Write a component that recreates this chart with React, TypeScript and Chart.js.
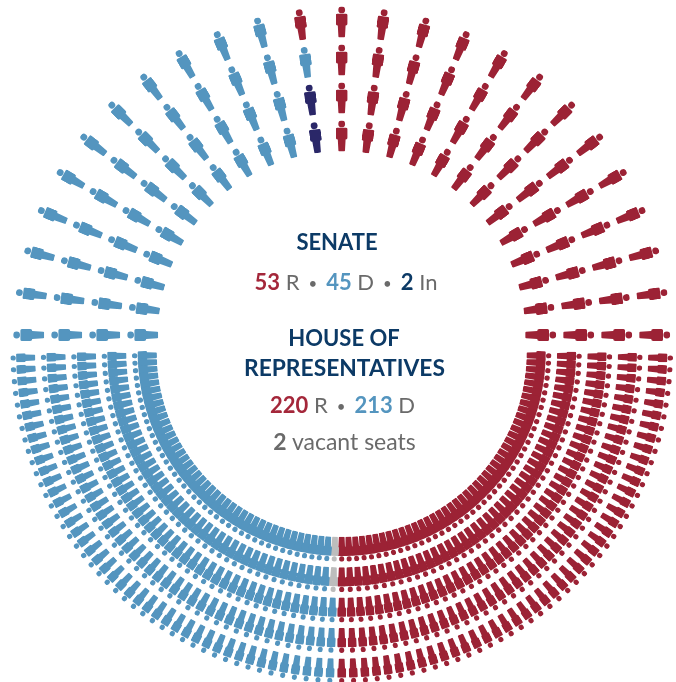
import React, { useEffect, useRef } from "react";
import { Chart, registerables } from "chart.js";

Chart.register(...registerables);

// ---- data ----
const senateParties = ["D", "In", "R"];
const senateSeats = [45, 2, 53];
const senateMixedSpoke = ["In", "In", "D", "R"];
const houseParties = ["D", "Vacant", "R"];
const houseSeats = [213, 2, 220];
const houseMixedSpoke = ["Vacant", "Vacant", "D", "D", "D"];

const senateRows = 4;
const senateSpokes = 25;
const houseRows = 5;
const houseSpokes = 87;

// ---- styles and layout ----
const RED = "#9c2235";
const RED_TEXT = "#a4273a";
const BLUE = "#5495bf";
const INDIGO = "#2a2768";
const GREY = "#bdbdbd";
const NAVY = "#0c3a66";
const TEXTGREY = "#6a6a6a";
const colors: Record<string, string> = { D: BLUE, R: RED, In: INDIGO, Vacant: GREY };

const W = 676, H = 682, CX = 341.7;
const SENATE_CY = 335, SENATE_R0 = 199, SENATE_STEP = 38;
const HOUSE_CY = 352, HOUSE_R0 = 197.3, HOUSE_STEP = 30.4;

// legInset: how far the legs sit in from the shoulders, in sprite units
function sprite(color: string, w: number, h: number, legInset: number): Promise<HTMLImageElement> {
  const a = legInset, c = 12 - legInset;
  const svg = `<svg xmlns="http://www.w3.org/2000/svg" width="${w}" height="${h}" viewBox="0 0 12 31" preserveAspectRatio="none"><g fill="${color}"><circle cx="6" cy="3.4" r="3.4"/><path d="M1.6 7.2H10.4Q11.9 7.2 11.9 8.7L11.9 17Q11.9 19 10 19L${c} 19L${c - 0.6} 30Q${c - 0.7} 31 ${c - 1.7} 31H${a + 1.7}Q${a + 0.7} 31 ${a + 0.6} 30L${a} 19L2 19Q.1 19 .1 17L.1 8.7Q.1 7.2 1.6 7.2Z"/></g></svg>`;
  return new Promise((resolve) => {
    const img = new Image(w, h);
    img.onload = () => resolve(img);
    img.src = "data:image/svg+xml;charset=utf-8," + encodeURIComponent(svg);
  });
}

type Seat = { x: number; y: number; rot: number; party: string };

// Seats fill spoke by spoke from the left: whole spokes of the first party,
// one mixed spoke, and the last party for the remainder.
function seats(first: number, rows: number, spokes: number, mixed: string[], last: string, firstParty: string,
  angle: (i: number) => number, r0: number, step: number, cy: number, upper: boolean): Seat[] {
  const out: Seat[] = [];
  const full = Math.floor(first / rows);
  for (let s = 0; s < spokes; s++) {
    const deg = angle(s);
    const t = (deg * Math.PI) / 180;
    for (let r = 0; r < rows; r++) {
      const party = s < full ? firstParty : s === full ? mixed[r] : last;
      const rad = r0 + r * step;
      out.push({
        x: CX - Math.cos(t) * rad,
        y: upper ? cy - Math.sin(t) * rad : cy + Math.sin(t) * rad,
        rot: upper ? deg - 90 : 270 - deg,
        party,
      });
    }
  }
  return out;
}

export default function App() {
  const ref = useRef<HTMLCanvasElement>(null);
  useEffect(() => {
    let chart: Chart | null = null;
    let dead = false;
    (async () => {
      const sen: Record<string, HTMLImageElement> = {};
      const hou: Record<string, HTMLImageElement> = {};
      for (const k of senateParties) sen[k] = await sprite(colors[k], 12, 31, 2.1);
      for (const k of houseParties) hou[k] = await sprite(colors[k], 9, 25, 1.6);
      if (dead || !ref.current) return;

      const senate = seats(senateSeats[0], senateRows, senateSpokes, senateMixedSpoke, "R", "D",
        (i) => (i * 180) / (senateSpokes - 1), SENATE_R0, SENATE_STEP, SENATE_CY, true);
      const house = seats(houseSeats[0], houseRows, houseSpokes, houseMixedSpoke, "R", "D",
        (i) => ((i + 0.5) * 180) / houseSpokes, HOUSE_R0, HOUSE_STEP, HOUSE_CY, false);

      const ds = (list: Seat[], party: string, image: HTMLImageElement) => ({
        label: party,
        data: list.filter((p) => p.party === party),
        pointStyle: image,
        pointRadius: 5,
        showLine: false,
        clip: false,
      });

      chart = new Chart(ref.current, {
        type: "scatter",
        data: {
          datasets: [
            ...senateParties.map((k) => ds(senate, k, sen[k])),
            ...houseParties.map((k) => ds(house, k, hou[k])),
          ] as any,
        },
        options: {
          animation: false,
          responsive: false,
          events: [],
          layout: { padding: 0, autoPadding: false },
          elements: { point: { rotation: (c: any) => c.raw?.rot ?? 0 } },
          plugins: { legend: { display: false }, tooltip: { enabled: false }, title: { display: false } },
          scales: {
            x: { type: "linear", display: false, min: 0, max: W },
            y: { type: "linear", display: false, min: 0, max: H, reverse: true },
          },
        } as any,
      });
    })();
    return () => {
      dead = true;
      chart?.destroy();
    };
  }, []);

  const font = "Lato, 'Noto Sans', sans-serif";
  const line = (y: number, cx: number, size: number, children: React.ReactNode, weight = 400): React.ReactNode => (
    <div style={{ position: "absolute", left: cx - 200, width: 400, top: y - 20, height: 40, lineHeight: "40px", textAlign: "center", fontSize: size, fontWeight: weight, fontFamily: font, color: TEXTGREY, whiteSpace: "pre" }}>{children}</div>
  );
  const b = (c: string, t: string) => <span style={{ color: c, fontWeight: 700 }}>{t}</span>;
  const dot = <span style={{ fontSize: 15, margin: "0 9px", verticalAlign: 1 }}>•</span>;
  return (
    <div style={{ position: "fixed", left: 0, top: 0, width: W, height: H, background: "#fff" }}>
      <canvas ref={ref} width={W} height={H} style={{ position: "absolute", left: 0, top: 0 }} />
      {line(242, 337, 22, <span style={{ color: NAVY }}>SENATE</span>, 700)}
      {line(282, 346, 22, <>{b(RED_TEXT, "53")} R{dot}{b(BLUE, "45")} D{dot}{b(NAVY, "2")} In</>)}
      {line(338, 344, 22, <span style={{ color: NAVY }}>HOUSE OF</span>, 700)}
      {line(367, 344.5, 22.8, <span style={{ color: NAVY }}>REPRESENTATIVES</span>, 700)}
      {line(405, 342.5, 22, <>{b(RED_TEXT, "220")} R{dot}{b(BLUE, "213")} D</>)}
      {line(441, 344.5, 23, <>{b(TEXTGREY, "2")} vacant seats</>)}
    </div>
  );
}
